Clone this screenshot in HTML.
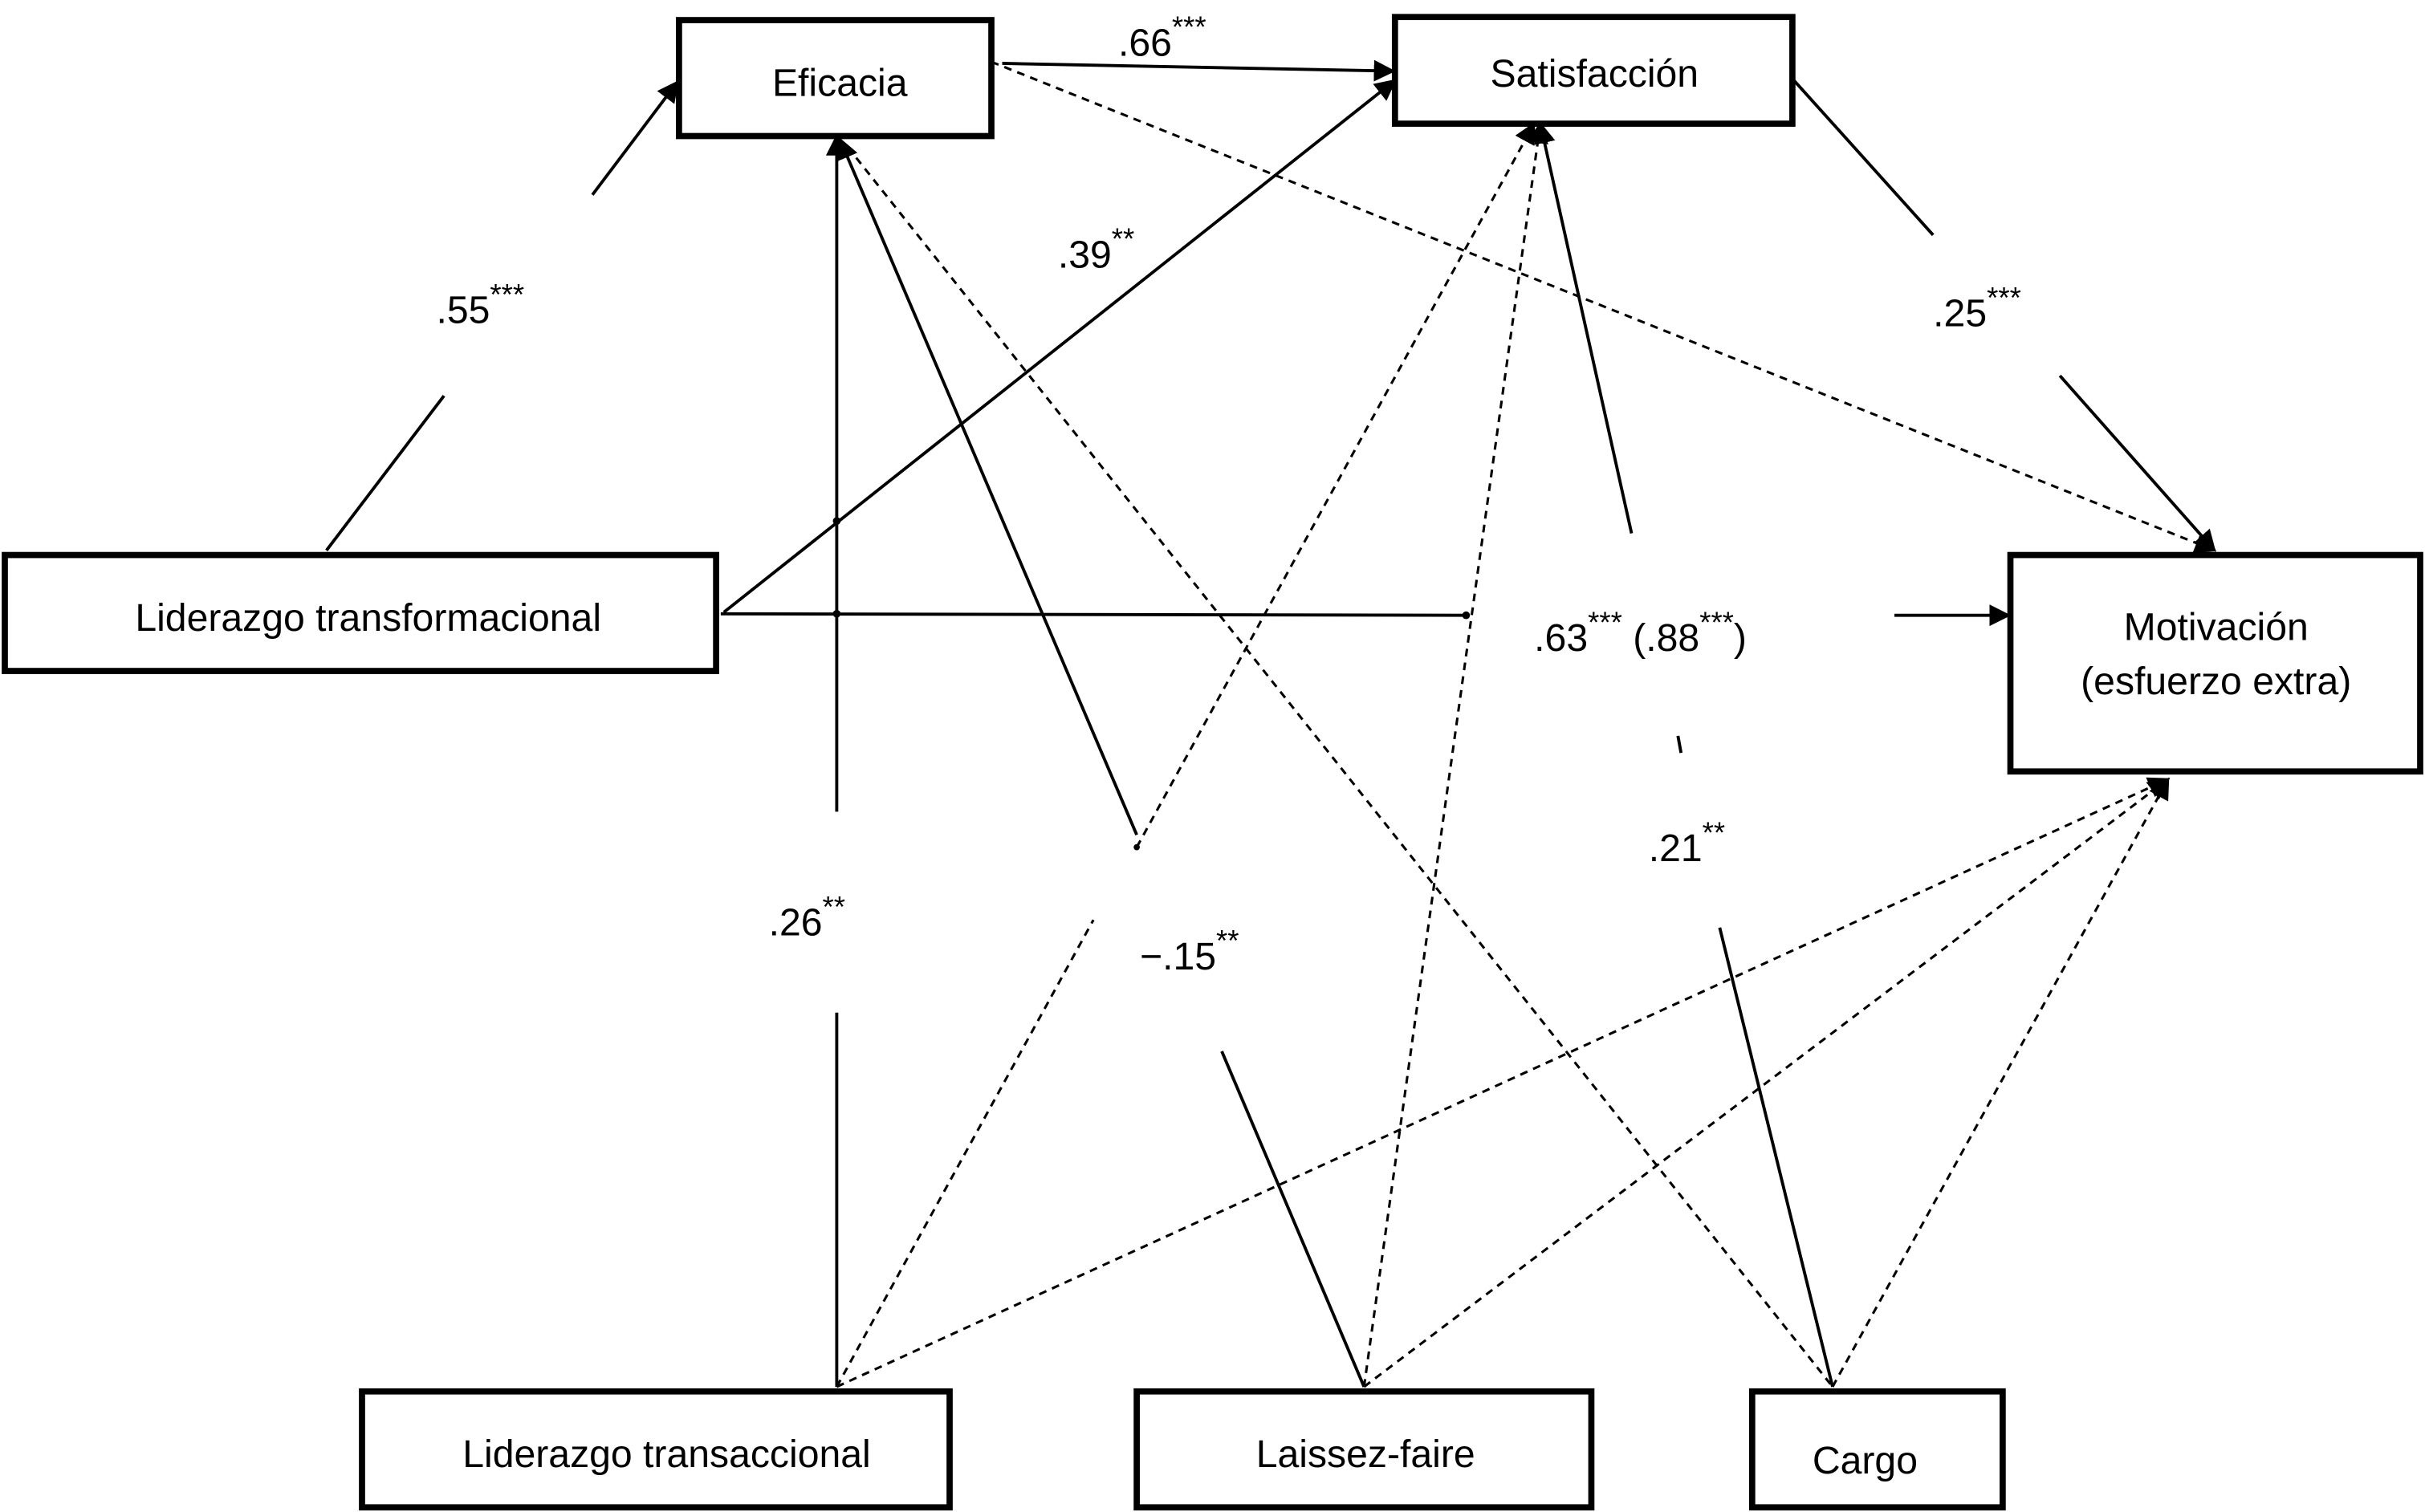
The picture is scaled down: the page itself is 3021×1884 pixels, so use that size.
<!DOCTYPE html>
<html><head><meta charset="utf-8"><style>
html,body{margin:0;padding:0;background:#fff}
svg{display:block}
text{font-family:"Liberation Sans",Arial,sans-serif;fill:#000}
</style></head><body>
<svg width="3021" height="1884" viewBox="0 0 1568 978" xmlns="http://www.w3.org/2000/svg">
<defs>
<marker id="a" viewBox="0 0 10 10" refX="9" refY="5" markerWidth="9" markerHeight="9" markerUnits="userSpaceOnUse" orient="auto"><path d="M0,0L10,5L0,10z" fill="#000"/></marker>
<marker id="b" viewBox="0 0 10 10" refX="9" refY="5" markerWidth="14" markerHeight="14" markerUnits="userSpaceOnUse" orient="auto"><path d="M0,0L10,5L0,10z" fill="#000"/></marker>
</defs>
<rect width="1568" height="978" fill="#fff"/>
<g stroke="#000" stroke-width="2" fill="none">
<!-- solid lines -->
<line x1="211" y1="356" x2="287" y2="256"/>
<line x1="383" y1="126" x2="438" y2="53" marker-end="url(#b)"/>
<line x1="648" y1="41" x2="901" y2="46" marker-end="url(#b)"/>
<line x1="468" y1="396" x2="902" y2="52" marker-end="url(#b)"/>
<line x1="466" y1="397" x2="948" y2="398"/>
<line x1="1225" y1="398" x2="1299" y2="398" marker-end="url(#b)"/>
<line x1="541" y1="897" x2="541" y2="655"/>
<line x1="541" y1="525" x2="541" y2="88" marker-end="url(#b)"/>
<line x1="882" y1="897" x2="790" y2="680"/>
<line x1="735" y1="540" x2="543" y2="90" marker-end="url(#b)"/>
<line x1="1185" y1="897" x2="1112" y2="600"/>
<line x1="1085" y1="476" x2="1087" y2="487"/>
<line x1="1055" y1="345" x2="996" y2="80" marker-end="url(#b)"/>
<line x1="1160" y1="52" x2="1250" y2="152"/>
<line x1="1332" y1="243" x2="1432" y2="356" marker-end="url(#b)"/>
</g>
<g stroke="#000" stroke-width="1.6" fill="none" stroke-dasharray="5,4">
<line x1="641" y1="40" x2="1432" y2="356" marker-end="url(#b)"/>
<line x1="541" y1="897" x2="707" y2="595"/>
<line x1="735" y1="548" x2="992" y2="80" marker-end="url(#b)"/>
<line x1="882" y1="897" x2="996" y2="80" marker-end="url(#b)"/>
<line x1="548" y1="95" x2="1185" y2="897"/>
<line x1="541" y1="897" x2="1402" y2="504" marker-end="url(#b)"/>
<line x1="882" y1="897" x2="1402" y2="504" marker-end="url(#b)"/>
<line x1="1185" y1="897" x2="1402" y2="504" marker-end="url(#b)"/>
</g>
<g fill="#000"><circle cx="541" cy="337" r="2.5"/><circle cx="541" cy="397" r="2.5"/><circle cx="948" cy="398" r="2.5"/><circle cx="735" cy="548" r="2"/></g>
<!-- boxes -->
<g stroke="#000" stroke-width="4" fill="#fff">
<rect x="439" y="13" width="202" height="75"/>
<rect x="902" y="11" width="257" height="69"/>
<rect x="3" y="359" width="460" height="75"/>
<rect x="1300" y="359" width="265" height="140"/>
<rect x="234" y="900" width="380" height="75"/>
<rect x="735" y="900" width="294" height="75"/>
<rect x="1133" y="900" width="162" height="75"/>
</g>
<g font-size="25" text-anchor="middle">
<text x="543" y="62">Eficacia</text>
<text x="1031" y="56">Satisfacción</text>
<text x="238" y="408">Liderazgo transformacional</text>
<text x="1433" y="414">Motivación</text>
<text x="1433" y="449">(esfuerzo extra)</text>
<text x="431" y="949">Liderazgo transaccional</text>
<text x="883" y="949">Laissez-faire</text>
<text x="1206" y="953">Cargo</text>
</g>
<g font-size="25">
<text x="282" y="209">.55<tspan font-size="19" dy="-12">***</tspan></text>
<text x="723" y="36">.66<tspan font-size="19" dy="-12">***</tspan></text>
<text x="684" y="173">.39<tspan font-size="19" dy="-12">**</tspan></text>
<text x="1250" y="211">.25<tspan font-size="19" dy="-12">***</tspan></text>
<text x="992" y="421">.63<tspan font-size="19" dy="-12">***</tspan><tspan dy="12"> (.88</tspan><tspan font-size="19" dy="-12">***</tspan><tspan dy="12">)</tspan></text>
<text x="1066" y="557">.21<tspan font-size="19" dy="-12">**</tspan></text>
<text x="497" y="605">.26<tspan font-size="19" dy="-12">**</tspan></text>
<text x="737" y="627">−.15<tspan font-size="19" dy="-12">**</tspan></text>
</g>
</svg>
</body></html>
